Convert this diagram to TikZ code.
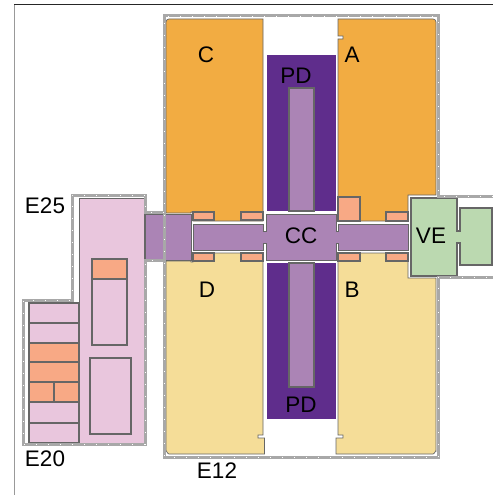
\documentclass[tikz,border=0pt]{standalone}
\usepackage{fontspec}
\setmainfont{Liberation Sans}
\definecolor{cOrange}{HTML}{F2AC42}
\definecolor{cYellow}{HTML}{F5DD98}
\definecolor{cDark}{HTML}{5F2D8C}
\definecolor{cLight}{HTML}{AB84B5}
\definecolor{cPink}{HTML}{E9C6DD}
\definecolor{cSalmon}{HTML}{F8A985}
\definecolor{cGreen}{HTML}{BBD9B0}
\definecolor{cEdge}{HTML}{666666}
\definecolor{cBound}{HTML}{A8A8A8}

\begin{document}
\begin{tikzpicture}[
  x=1pt,y=-1pt,
  region/.style={draw=cEdge,line width=.7pt},
  part/.style={draw=cEdge,line width=1.4pt},
  bound/.style={draw=cBound,line width=3pt,
              postaction={draw=white,line width=.6pt,dash pattern=on 1pt off 11pt}},
  lbl/.style={inner sep=0pt,font=\fontsize{22.5}{22.5}\selectfont}]
\useasboundingbox (0,0) rectangle (493,495);
\fill[white] (0,0) rectangle (493,495);
\draw[black!85,line width=1pt] (14,5)--(493,5);
\draw[black!40,line width=1pt] (14,5)--(14,495);

\filldraw[region,fill=cOrange] (166,213)--(191,213)--(191,212)--(193,212)--(193,221)--(263,221)--(263,19)
  --(169,19) to[out=180,in=90] (166,22)--cycle;
\filldraw[region,fill=cOrange] (338,221)--(408,221)--(408,195)--(436,195)--(436,22) to[out=90,in=0] (433,19)
  --(338,19)--(338,36)--(343,36)--(343,39)--(338,39)--cycle;
\filldraw[region,fill=cYellow] (166,261)--(191,261)--(191,262)--(193,262)--(193,253)--(263,253)--(263,435)
  --(258,435)--(258,438)--(264.5,438)--(264.5,454)--(169,454) to[out=180,in=90] (166,451)--cycle;
\filldraw[region,fill=cYellow] (338,253)--(408,253)--(408,278)--(436,278)--(436,451) to[out=90,in=0] (433,454)
  --(336,454)--(336,438)--(343,438)--(343,435)--(338,435)--cycle;

\foreach \xa/\ya/\xb/\yb in {193/212/214/220,241/212/263/220,193/253/214/261,241/253/263/261,
  338/197/360/221,386/212/408/221,338/253/360/261,386/253/408/261}
  \filldraw[part,fill=cSalmon] (\xa,\ya) rectangle (\xb,\yb);

\fill[cDark] (267,55) rectangle (336,211);
\fill[cDark] (267,263) rectangle (336,419);
\filldraw[part,fill=cLight] (289,88) rectangle (314,211);
\filldraw[part,fill=cLight] (289,263) rectangle (314,387);

\filldraw[region,fill=cLight] (145,214) rectangle (191,260);
\filldraw[region,fill=cLight] (193,224)--(263,224)--(263,231)--(266,231)--(266,214)--(336,214)--(336,231)
  --(338,231)--(338,224)--(408,224)--(408,250)--(338,250)--(338,243)--(336,243)--(336,260)--(266,260)
  --(266,243)--(263,243)--(263,250)--(193,250)--cycle;
\filldraw[part,fill=cGreen] (411,198)--(457,198)--(457,231)--(460,231)--(460,208)--(492,208)--(492,265)
  --(460,265)--(460,243)--(457,243)--(457,276)--(411,276)--cycle;

\filldraw[region,fill=cPink] (79,198) rectangle (144,443);
\filldraw[part,fill=cPink] (92,259) rectangle (127,345);
\filldraw[part,fill=cSalmon] (92,259) rectangle (127,279);
\filldraw[part,fill=cPink] (90,358) rectangle (131,434);
\foreach \ya/\yb/\colr in {303/323/cPink,323/343/cPink,343/362/cSalmon,362/382/cSalmon,
  382/402/cSalmon,402/423/cPink,423/443/cPink}
  \filldraw[part,fill=\colr] (29,\ya) rectangle (79,\yb);
\draw[part] (54,382)--(54,402);

\draw[bound] (493,196)--(438,196)--(438,16)--(164,16)--(164,457)--(438,457)--(438,277)--(493,277);
\draw[bound] (164,212)--(145,212)--(145,195)--(72,195)--(72,300)--(23,300)--(23,444)--(145,444)--(145,260)--(164,260);

\node[lbl] (c) at (206,55) {C};
\node[lbl] (a) at (352,55) {A};
\node[lbl] (d) at (207,290) {D};
\node[lbl] (b) at (352,290) {B};
\node[lbl] (cc) at (301,236) {CC};
\node[lbl] (ve) at (431,236) {VE};
\node[lbl] (pdtop) at (296,76) {PD};
\node[lbl] (pdbot) at (301,405) {PD};
\node[lbl] (e25) at (45,206) {E25};
\node[lbl] (e20) at (45,459) {E20};
\node[lbl] (e12) at (217,471) {E12};
\end{tikzpicture}
\end{document}
